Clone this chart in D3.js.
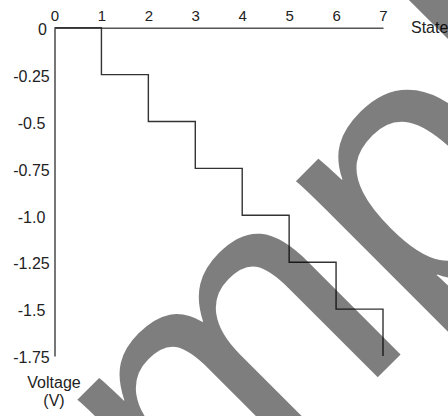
<!DOCTYPE html>
<html>
<head>
<meta charset="utf-8">
<script src="https://cdn.jsdelivr.net/npm/d3@7"></script>
<style>
  body { margin: 0; background: #fff; }
  #chart { width: 448px; height: 416px; }
  text { font-family: "Liberation Sans", Arial, sans-serif; fill: #222; }
</style>
</head>
<body>
<div id="chart"></div>
<script>
var states = [0, 1, 2, 3, 4, 5, 6, 7];
var voltage = [0, -0.25, -0.5, -0.75, -1.0, -1.25, -1.5, -1.75];

var xTicks = [0, 1, 2, 3, 4, 5, 6, 7];
var yTicks = [0, -0.25, -0.5, -0.75, -1.0, -1.25, -1.5, -1.75];
var yTickLabels = ["0", "-0.25", "-0.5", "-0.75", "-1.0", "-1.25", "-1.5", "-1.75"];

var xTitle = "State";
var yTitle = ["Voltage", "(V)"];
var watermark = "sample";

var width = 448,
    height = 416;

var xScale = d3.scaleLinear()
    .domain([0, 7])
    .range([54.5, 383]);

var yScale = d3.scaleLinear()
    .domain([-1.75, 0])
    .range([356, 27.7]);

var svg = d3.select("#chart")
    .append("svg")
    .attr("width", width)
    .attr("height", height);

// X axis on top
var xAxis = d3.axisTop(xScale)
    .tickValues(xTicks)
    .tickFormat(d3.format("d"))
    .tickSize(0)
    .tickPadding(7);

var gx = svg.append("g")
    .attr("transform", "translate(0," + yScale(0) + ")")
    .call(xAxis);

gx.selectAll("text")
    .style("font-size", "15px");

// Y axis
var yAxis = d3.axisLeft(yScale)
    .tickValues(yTicks)
    .tickFormat(function(d, i) { return yTickLabels[i]; })
    .tickSize(0)
    .tickPadding(0);

var gy = svg.append("g")
    .attr("transform", "translate(" + xScale(0) + ",0)")
    .call(yAxis);

gy.selectAll("text")
    .style("font-size", "16px")
    .attr("text-anchor", "middle")
    .attr("x", function(d) { return d === 0 ? -12 : -23; })
    .attr("dy", function(d) { return d === 0 ? "0.45em" : "0.42em"; });

svg.selectAll(".domain")
    .attr("stroke", "#555")
    .attr("stroke-width", 1.6);

// step line
var line = d3.line()
    .x(function(d, i) { return xScale(states[i]); })
    .y(function(d) { return yScale(d); })
    .curve(d3.curveStepAfter);

svg.append("path")
    .datum(voltage)
    .attr("fill", "none")
    .attr("stroke", "#333")
    .attr("stroke-width", 1.4)
    .attr("d", line);

// axis titles
svg.append("text")
    .attr("x", 411)
    .attr("y", 33)
    .style("font-size", "16px")
    .text(xTitle);

svg.append("text")
    .attr("x", 54)
    .attr("y", 388)
    .attr("text-anchor", "middle")
    .style("font-size", "16px")
    .selectAll("tspan")
    .data(yTitle)
    .join("tspan")
    .attr("x", 54)
    .attr("dy", function(d, i) { return i === 0 ? 0 : "1.15em"; })
    .text(function(d) { return d; });

// diagonal watermark over the chart
svg.append("text")
    .attr("transform", "translate(-79,834) rotate(-45)")
    .style("font-size", "372px")
    .style("fill", "#000")
    .style("opacity", 0.5)
    .text(watermark);
</script>
</body>
</html>
